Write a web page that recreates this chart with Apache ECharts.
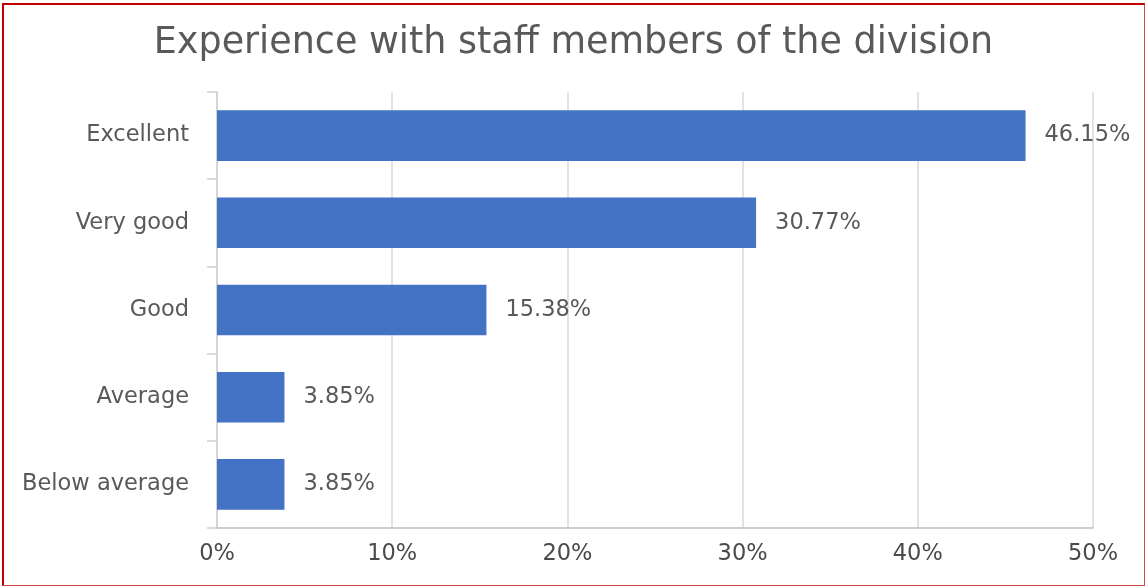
<!DOCTYPE html>
<html>
<head>
<meta charset="utf-8">
<script src="https://cdn.jsdelivr.net/npm/echarts@6/dist/echarts.min.js"></script>
<style>
  html, body { margin: 0; padding: 0; background: #fff; }
  #chart { width: 1147px; height: 588px; }
  #frame {
    position: absolute; left: 2px; top: 3px; width: 1143px; height: 583px;
    border-top: 2px solid #c00000; border-left: 2px solid #c00000;
    border-right: 1px solid #d04848; border-bottom: 1px solid #d04848;
    box-sizing: border-box; pointer-events: none;
  }
</style>
</head>
<body>
<div id="chart"></div>
<div id="frame"></div>
<script>
// Survey responses, listed top to bottom
const categories = ['Excellent', 'Very good', 'Good', 'Average', 'Below average'];
const percentages = [46.15, 30.77, 15.38, 3.85, 3.85];
const xTicks = [0, 10, 20, 30, 40, 50];

const chart = echarts.init(document.getElementById('chart'), null, { renderer: 'canvas' });
const font = '"DejaVu Sans", "Noto Sans", sans-serif';
const textGray = '#595959';

chart.setOption({
  animation: false,
  title: {
    text: 'Experience with staff members of the division',
    left: 'center',
    top: 20,
    textStyle: { fontFamily: font, fontSize: 36.5, fontWeight: 'normal', color: textGray }
  },
  grid: { left: 217, right: 54, top: 92, bottom: 60, containLabel: false },
  xAxis: {
    type: 'value',
    min: xTicks[0],
    max: xTicks[xTicks.length - 1],
    interval: 10,
    axisLine: { show: true, lineStyle: { color: '#bfbfbf', width: 1.5 } },
    axisTick: { show: false },
    splitLine: { show: true, lineStyle: { color: '#d9d9d9', width: 1.5 } },
    axisLabel: {
      formatter: v => v + '%',
      fontFamily: font, fontSize: 22.5, color: '#4a4a4a', margin: 15
    }
  },
  yAxis: {
    type: 'category',
    data: categories,
    inverse: true,
    axisLine: { show: true, lineStyle: { color: '#d0d0d0', width: 1.5 } },
    axisTick: { show: true, length: 10, lineStyle: { color: '#d0d0d0', width: 1.5 } },
    axisLabel: { fontFamily: font, fontSize: 22.5, color: textGray, margin: 28 }
  },
  series: [{
    type: 'bar',
    data: percentages,
    barCategoryGap: '42%',
    itemStyle: { color: '#4472c4' },
    label: {
      show: true,
      position: 'right',
      distance: 19,
      formatter: p => p.value.toFixed(2) + '%',
      fontFamily: font, fontSize: 22.5, color: textGray
    }
  }]
});
</script>
</body>
</html>
